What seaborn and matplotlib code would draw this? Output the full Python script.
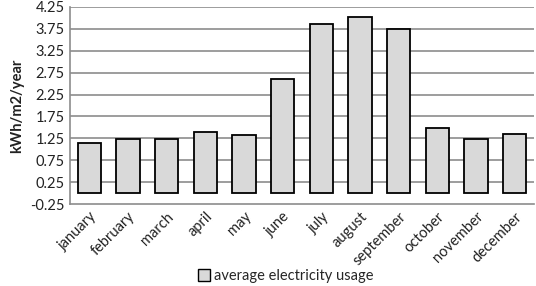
import matplotlib
matplotlib.use("Agg")
import matplotlib.pyplot as plt
import seaborn as sns
import pandas as pd
from matplotlib.patches import Patch

months = ["january", "february", "march", "april", "may", "june", "july",
          "august", "september", "october", "november", "december"]
usage = [1.15, 1.24, 1.23, 1.39, 1.32, 2.60, 3.87, 4.02, 3.74, 1.48, 1.23, 1.36]
yticks = [-0.25, 0.25, 0.75, 1.25, 1.75, 2.25, 2.75, 3.25, 3.75, 4.25]

sns.set_theme(style="white")
plt.rcParams["font.family"] = ["Lato", "DejaVu Sans"]

df = pd.DataFrame({"month": months, "usage": usage})
fig = plt.figure(figsize=(5.36, 2.86), dpi=100)
ax = fig.add_axes([70/536, 1 - 204/286, 464/536, 197/286])
sns.barplot(data=df, x="month", y="usage", ax=ax, color="#d9d9d9",
            edgecolor="black", linewidth=1.3, width=0.6, saturation=1)
ax.set_ylim(-0.25, 4.25)
ax.set_yticks(yticks)
ax.set_yticklabels([f"{v:.2f}" for v in yticks])
for v in yticks[1:]:
    ax.axhline(v, color="#8c8c8c", lw=1.2, zorder=0)
ax.set_xlim(-0.5, 11.5)
for s in ["top", "right"]:
    ax.spines[s].set_visible(False)
for s in ["left", "bottom"]:
    ax.spines[s].set_color("#8c8c8c")
    ax.spines[s].set_linewidth(1.2)
ax.tick_params(axis="both", length=0, labelsize=10.5, colors="#222222", pad=4)
plt.setp(ax.get_xticklabels(), rotation=45, ha="right", rotation_mode="anchor")
ax.set_xlabel("")
ax.set_ylabel("kWh/m2/year", fontsize=10.5, fontweight="bold", color="#222222", labelpad=4)
handle = Patch(facecolor="#d9d9d9", edgecolor="black", linewidth=1)
fig.legend([handle], ["average electricity usage"], loc="center",
           bbox_to_anchor=(286/536, 1 - 276/286), frameon=False, fontsize=10.5,
           handlelength=0.8, handleheight=0.8, handletextpad=0.3)
fig.savefig("out.png", dpi=100)
